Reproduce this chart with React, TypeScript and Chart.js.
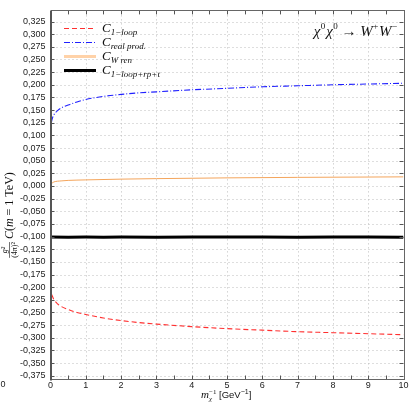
import { useEffect, useRef } from "react";
import { Chart, registerables } from "chart.js";

Chart.register(...registerables);

// ---- data ----
const xLoop = [0, 0.01, 0.03, 0.06, 0.1, 0.2, 0.3, 0.5, 0.75, 1, 1.5, 2, 2.5, 3, 4, 5, 6, 7, 8, 9, 10];
const cLoop = [-0.183, -0.2, -0.212, -0.219, -0.225, -0.233, -0.238, -0.244, -0.25, -0.254, -0.261, -0.266, -0.27, -0.273, -0.278, -0.282, -0.285, -0.288, -0.29, -0.292, -0.294];

const xReal = [0, 0.01, 0.03, 0.06, 0.1, 0.2, 0.3, 0.5, 0.75, 1, 1.5, 2, 2.5, 3, 4, 5, 6, 7, 8, 9, 10];
const cReal = [0.104, 0.115, 0.127, 0.135, 0.141, 0.149, 0.154, 0.16, 0.166, 0.171, 0.177, 0.181, 0.184, 0.186, 0.19, 0.193, 0.196, 0.198, 0.2, 0.2015, 0.203];

const xWren = [0, 0.02, 0.05, 0.1, 0.3, 0.5, 1, 2, 3, 5, 7, 10];
const cWren = [0.001, 0.004, 0.006, 0.008, 0.01, 0.011, 0.012, 0.0135, 0.0145, 0.016, 0.017, 0.018];

const xTotal = [0, 0.5, 1, 1.5, 2, 3, 4, 5, 6, 7, 8, 9, 10];
const cTotal = [-0.101, -0.1012, -0.101, -0.1013, -0.101, -0.1012, -0.101, -0.1011, -0.101, -0.1012, -0.101, -0.1011, -0.1012];

const xTickValues = [0, 1, 2, 3, 4, 5, 6, 7, 8, 9, 10];
const xMinorValues = [0.5, 1.5, 2.5, 3.5, 4.5, 5.5, 6.5, 7.5, 8.5, 9.5];
const yTickValues = [
  -0.375, -0.35, -0.325, -0.3, -0.275, -0.25, -0.225, -0.2, -0.175, -0.15, -0.125, -0.1, -0.075, -0.05, -0.025,
  0, 0.025, 0.05, 0.075, 0.1, 0.125, 0.15, 0.175, 0.2, 0.225, 0.25, 0.275, 0.3, 0.325,
];

const legendSubs = ["1\u2212loop", "real prod.", "W ren", "1\u2212loop+rp+t"];

const zip = (xs: number[], ys: number[]) => xs.map((x, i) => ({ x, y: ys[i] }));

const SERIF = '"Liberation Serif", "DejaVu Serif", serif';
const SANS = '"Liberation Sans", Arial, sans-serif';

type Seg = { t: string; font: string; dy?: number; dx?: number; noAdvance?: boolean };

function measureRich(ctx: CanvasRenderingContext2D, segs: Seg[]) {
  let w = 0;
  for (const s of segs) {
    ctx.font = s.font;
    if (!s.noAdvance) w += ctx.measureText(s.t).width + (s.dx || 0);
  }
  return w;
}

function drawRich(ctx: CanvasRenderingContext2D, segs: Seg[], x: number, y: number, align: "left" | "center" | "right") {
  const w = measureRich(ctx, segs);
  let cx = align === "center" ? x - w / 2 : align === "right" ? x - w : x;
  ctx.textAlign = "left";
  ctx.textBaseline = "alphabetic";
  for (const s of segs) {
    ctx.font = s.font;
    ctx.fillText(s.t, cx + (s.dx || 0), y + (s.dy || 0));
    if (!s.noAdvance) cx += ctx.measureText(s.t).width + (s.dx || 0);
  }
}

const decoPlugin = {
  id: "deco",
  beforeDatasetsDraw(chart: any) {
    const { ctx, chartArea: a, scales } = chart;
    const xs = scales.x;
    const ys = scales.y;
    ctx.save();
    ctx.strokeStyle = "#bdbdbd";
    ctx.lineWidth = 1;
    ctx.setLineDash([1, 3]);
    for (const v of yTickValues) {
      const py = Math.round(ys.getPixelForValue(v)) + 0.5;
      ctx.beginPath();
      ctx.moveTo(a.left + 6, py);
      ctx.lineTo(a.right - 6, py);
      ctx.stroke();
    }
    for (const v of xTickValues) {
      if (v === 0 || v === 10) continue;
      const px = Math.round(xs.getPixelForValue(v)) + 0.5;
      ctx.beginPath();
      ctx.moveTo(px, a.top + 5);
      ctx.lineTo(px, a.bottom - 5);
      ctx.stroke();
    }
    ctx.restore();
  },
  afterDatasetsDraw(chart: any) {
    const { ctx, chartArea: a, scales } = chart;
    const xs = scales.x;
    const ys = scales.y;
    ctx.save();
    // ticks
    ctx.strokeStyle = "#555555";
    ctx.lineWidth = 1;
    ctx.setLineDash([]);
    for (const v of yTickValues) {
      const py = Math.round(ys.getPixelForValue(v)) + 0.5;
      ctx.beginPath();
      ctx.moveTo(a.left, py);
      ctx.lineTo(a.left + 4, py);
      ctx.moveTo(a.right, py);
      ctx.lineTo(a.right - 4, py);
      ctx.stroke();
    }
    for (const v of xTickValues.concat(xMinorValues)) {
      const px = Math.round(xs.getPixelForValue(v)) + 0.5;
      ctx.beginPath();
      ctx.moveTo(px, a.bottom);
      ctx.lineTo(px, a.bottom - 4);
      ctx.moveTo(px, a.top);
      ctx.lineTo(px, a.top + 4);
      ctx.stroke();
    }
    // frame
    ctx.strokeStyle = "#666666";
    ctx.lineWidth = 1;
    ctx.strokeRect(Math.round(a.left) + 0.5, Math.round(a.top) + 0.5, Math.round(a.right - a.left), Math.round(a.bottom - a.top));
    ctx.strokeStyle = "#555555";
    ctx.lineWidth = 2;
    ctx.beginPath();
    ctx.moveTo(Math.round(a.left), a.top);
    ctx.lineTo(Math.round(a.left), a.bottom + 1);
    ctx.moveTo(a.left, Math.round(a.bottom) + 0.5);
    ctx.stroke();

    // legend
    const legendY = [28, 42, 56, 70];
    const samples = [
      { color: "#ff3030", width: 1.2, dash: [5, 3] },
      { color: "#2020ff", width: 1.2, dash: [6, 2, 1, 2] },
      { color: "#ffd2a8", width: 3, dash: [] as number[] },
      { color: "#000000", width: 3, dash: [] as number[] },
    ];
    samples.forEach((s, i) => {
      const y = legendY[i] + 0.5;
      ctx.strokeStyle = s.color;
      ctx.lineWidth = s.width;
      ctx.setLineDash(s.dash);
      ctx.beginPath();
      ctx.moveTo(64, y);
      ctx.lineTo(96, y);
      ctx.stroke();
      ctx.setLineDash([]);
      ctx.fillStyle = "#111";
      drawRich(
        ctx,
        [
          { t: "C", font: `italic 13px ${SERIF}` },
          { t: legendSubs[i], font: `italic 9px ${SERIF}`, dy: 3 },
        ],
        102,
        legendY[i] + 4,
        "left"
      );
    });

    // process label
    ctx.fillStyle = "#111";
    drawRich(
      ctx,
      [
        { t: "\u03c7", font: `italic 15px ${SERIF}` },
        { t: "0", font: `9px ${SERIF}`, dy: -7, dx: 0.5 },
        { t: "\u03c7", font: `italic 15px ${SERIF}`, dx: 1 },
        { t: "0", font: `9px ${SERIF}`, dy: -7, dx: 0.5 },
        { t: " \u2192 ", font: `15px ${SERIF}` },
        { t: "W", font: `italic 15px ${SERIF}` },
        { t: "+", font: `9px ${SERIF}`, dy: -7, dx: 0.5 },
        { t: "W", font: `italic 15px ${SERIF}`, dx: 0.5 },
        { t: "\u2212", font: `9px ${SERIF}`, dy: -7, dx: 0.5 },
      ],
      397,
      36,
      "right"
    );

    // x axis title
    drawRich(
      ctx,
      [
        { t: "m", font: `italic 11px ${SERIF}` },
        { t: "\u03c7", font: `italic 7px ${SERIF}`, dy: 3, noAdvance: true },
        { t: "\u22121", font: `7px ${SERIF}`, dy: -4 },
        { t: " [GeV", font: `9.5px ${SANS}` },
        { t: "\u22121", font: `7px ${SANS}`, dy: -4 },
        { t: "]", font: `9.5px ${SANS}` },
      ],
      201,
      398,
      "left"
    );

    // y axis title (rotated)
    ctx.save();
    ctx.translate(13, 215);
    ctx.rotate(-Math.PI / 2);
    const fracFont = `italic 8px ${SERIF}`;
    const fracFontUp = `8px ${SERIF}`;
    const mainSegs: Seg[] = [
      { t: "C", font: `italic 12px ${SERIF}` },
      { t: "(", font: `12px ${SERIF}` },
      { t: "m", font: `italic 12px ${SERIF}` },
      { t: " = 1 TeV)", font: `12px ${SERIF}` },
    ];
    ctx.font = fracFontUp;
    const denW = ctx.measureText("(4\u03c0)\u00b2").width;
    const mainW = measureRich(ctx, mainSegs);
    const total = denW + 3 + mainW;
    const x0 = -total / 2;
    ctx.textAlign = "center";
    ctx.textBaseline = "alphabetic";
    ctx.font = fracFont;
    ctx.fillText("g\u00b2", x0 + denW / 2, -6);
    ctx.font = fracFontUp;
    ctx.fillText("(4\u03c0)\u00b2", x0 + denW / 2, 4);
    ctx.strokeStyle = "#111";
    ctx.lineWidth = 0.6;
    ctx.beginPath();
    ctx.moveTo(x0, -3.5);
    ctx.lineTo(x0 + denW, -3.5);
    ctx.stroke();
    drawRich(ctx, mainSegs, x0 + denW + 3, 0, "left");
    ctx.restore();

    // stray clipped label at bottom-left
    ctx.fillStyle = "#222";
    ctx.font = `9px ${SANS}`;
    ctx.textAlign = "center";
    ctx.textBaseline = "top";
    ctx.fillText("0", 3, a.bottom + 1);
    ctx.restore();
  },
};

export default function App() {
  const ref = useRef<HTMLCanvasElement>(null);
  useEffect(() => {
    const canvas = ref.current;
    if (!canvas) return;
    const chart = new Chart(canvas, {
      type: "line",
      data: {
        datasets: [
          {
            label: "C 1-loop+rp+t",
            data: zip(xTotal, cTotal),
            borderColor: "#000000",
            borderWidth: 3,
            pointRadius: 0,
            tension: 0,
          },
          {
            label: "C 1-loop",
            data: zip(xLoop, cLoop),
            borderColor: "#ff3030",
            borderWidth: 1.1,
            borderDash: [5, 3],
            pointRadius: 0,
            cubicInterpolationMode: "monotone",
          },
          {
            label: "C real prod.",
            data: zip(xReal, cReal),
            borderColor: "#2020ff",
            borderWidth: 1.1,
            borderDash: [6, 2, 1, 2],
            pointRadius: 0,
            cubicInterpolationMode: "monotone",
          },
          {
            label: "C W ren",
            data: zip(xWren, cWren),
            borderColor: "#f4a55c",
            borderWidth: 1,
            pointRadius: 0,
            cubicInterpolationMode: "monotone",
          },
        ],
      },
      options: {
        responsive: false,
        animation: false,
        devicePixelRatio: 1,
        layout: { padding: { left: 0, right: 6.5, top: 7.5, bottom: 0 } },
        plugins: { legend: { display: false }, tooltip: { enabled: false } },
        scales: {
          x: {
            type: "linear",
            min: 0,
            max: 10,
            grid: { display: false, drawTicks: false },
            border: { display: false },
            afterBuildTicks: (s: any) => {
              s.ticks = xTickValues.map((v) => ({ value: v }));
            },
            afterFit: (s: any) => {
              s.height = 23.5;
            },
            ticks: {
              autoSkip: false,
              maxRotation: 0,
              padding: 1,
              color: "#222",
              font: { family: SANS, size: 9 },
              callback: (v: any) => String(v),
            },
          },
          y: {
            type: "linear",
            min: -0.3825,
            max: 0.347,
            grid: { display: false, drawTicks: false },
            border: { display: false },
            afterBuildTicks: (s: any) => {
              s.ticks = yTickValues.map((v) => ({ value: v }));
            },
            afterFit: (s: any) => {
              s.width = 50.5;
            },
            ticks: {
              autoSkip: false,
              padding: 5,
              color: "#222",
              font: { family: SANS, size: 9 },
              callback: (v: any) => {
                const n = Number(v);
                if (Math.abs(n) < 1e-9) return "0,000";
                return n.toFixed(3).replace(".", ",");
              },
            },
          },
        },
      },
      plugins: [decoPlugin],
    } as any);
    return () => chart.destroy();
  }, []);
  return (
    <div style={{ position: "absolute", left: 0, top: 0, width: 410, height: 403, background: "#fff" }}>
      <canvas ref={ref} width={410} height={403} style={{ display: "block", width: 410, height: 403 }} />
    </div>
  );
}
